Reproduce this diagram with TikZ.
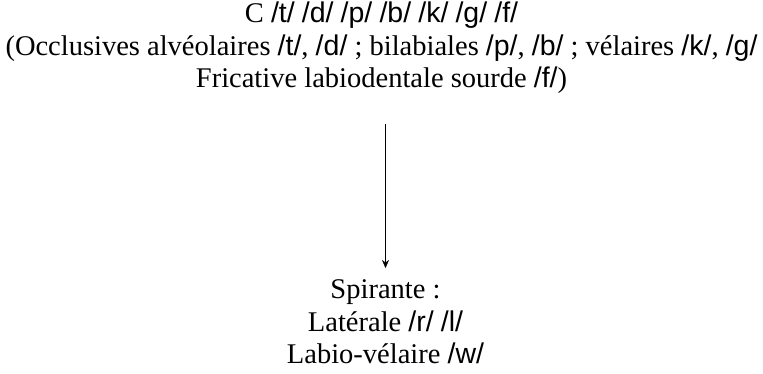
\documentclass[tikz,border=0pt]{standalone}
\usepackage{fontspec}
\setmainfont{Liberation Serif}
\newfontfamily\phonfont{Liberation Sans}
\usetikzlibrary{arrows.meta}

% phoneme between slashes, set in sans
\newcommand{\phon}[1]{{\phonfont/#1/}}

\tikzset{
  label text/.style={align=center, inner sep=0pt,
    font=\fontsize{28.5pt}{32.5pt}\selectfont},
}

\begin{document}
\begin{tikzpicture}[x=1pt,y=1pt]
\useasboundingbox (0,0) rectangle (763,-374);
\node[label text] (C) at (381.5,-48) {C \phon{t} \phon{d} \phon{p} \phon{b} \phon{k} \phon{g} \phon{f}\\
(Occlusives alvéolaires \phon{t}, \phon{d} ; bilabiales \phon{p}, \phon{b} ; vélaires \phon{k}, \phon{g}\\
Fricative labiodentale sourde \phon{f})};
\node[label text] (S) at (385.5,-322) {Spirante :\\
Latérale \phon{r} \phon{l}\\
Labio-vélaire \phon{w}};
\coordinate (from) at (385.5,-124);
\coordinate (to) at (385.5,-268);
\draw [-{Stealth[length=8pt,width=7pt]}] (from) -- (to);
\end{tikzpicture}
\end{document}
